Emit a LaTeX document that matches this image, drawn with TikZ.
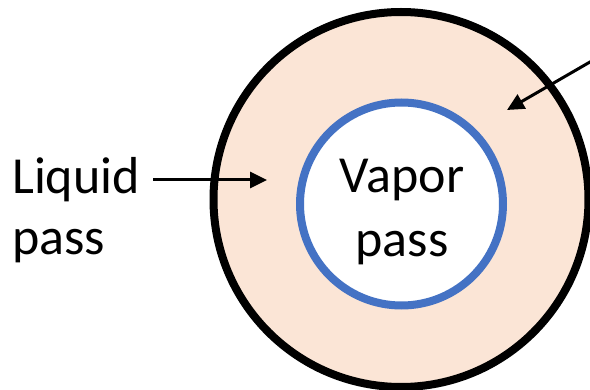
\documentclass[tikz,border=0pt]{standalone}
\usepackage{fontspec}
\setmainfont{Carlito}
\usetikzlibrary{arrows.meta}
\definecolor{peach}{HTML}{FBE5D6}
\definecolor{ringblue}{HTML}{4472C4}
\tikzset{
  ring/.style={circle, inner sep=0pt, line width=8pt},
  lbl/.style={inner sep=0pt, font=\fontsize{52}{62}\selectfont},
  pointer/.style={line width=3pt, -{Triangle[length=17pt,width=16pt]}}
}
\begin{document}
\begin{tikzpicture}[x=1pt,y=-1pt]
\useasboundingbox (0,0) rectangle (590,390);
\node[ring, draw=black, fill=peach, minimum size=375pt] (outer) at (401,199.5) {};
\node[ring, draw=ringblue, fill=white, minimum size=203pt] (inner) at (401.5,204) {};
\node[lbl, anchor=base] (vapor) at (402,192.5) {Vapor};
\node[lbl, anchor=base] (vpass) at (402,256.7) {pass};
\node[lbl, anchor=base west] (liquid) at (12,193.3) {Liquid};
\node[lbl, anchor=base west] (lpass) at (12,255) {pass};
\coordinate (la) at (153,180);
\coordinate (lt) at (267,180);
\coordinate (ra) at (600,56.2);
\coordinate (rt) at (507,110);
\draw[pointer] (la) -- (lt);
\draw[pointer] (ra) -- (rt);
\end{tikzpicture}
\end{document}
